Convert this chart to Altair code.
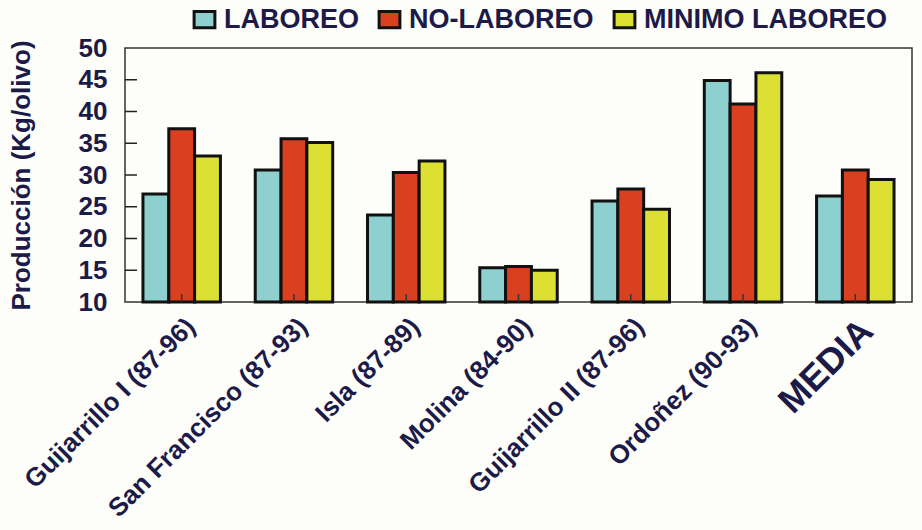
import altair as alt
import pandas as pd

# Olive yield per tree under three soil-management systems
sites = [
    "Guijarrillo I (87-96)",
    "San Francisco (87-93)",
    "Isla (87-89)",
    "Molina (84-90)",
    "Guijarrillo II (87-96)",
    "Ordoñez (90-93)",
    "MEDIA",
]
treatments = ["LABOREO", "NO-LABOREO", "MINIMO LABOREO"]
laboreo = [27.0, 30.8, 23.7, 15.4, 25.9, 44.9, 26.7]
no_laboreo = [37.3, 35.7, 30.4, 15.6, 27.8, 41.2, 30.8]
minimo_laboreo = [33.0, 35.1, 32.2, 15.0, 24.6, 46.1, 29.3]
y_ticks = [10, 15, 20, 25, 30, 35, 40, 45, 50]
inner_ticks = [15, 20, 25, 30, 35, 40, 45]

colors = ["#8ecfcf", "#d8401f", "#dce032"]
ink = "#1c1a48"
font = "Liberation Sans"

rows = []
for series_name, values in zip(treatments, [laboreo, no_laboreo, minimo_laboreo]):
    for site, v in zip(sites, values):
        rows.append({"sitio": site, "tratamiento": series_name, "produccion": v})
df = pd.DataFrame(rows)

W, H = 787, 254

x_axis = alt.Axis(
    title=None,
    labelAngle=-45,
    labelAlign="right",
    labelBaseline="top",
    labelPadding=11,
    labelFont=font,
    labelFontWeight="bold",
    labelFontSize=alt.expr("datum.value == 'MEDIA' ? 36 : 26"),
    labelColor=ink,
    labelOverlap=False,
    ticks=False,
    domain=False,
    labelLimit=400,
)
y_axis = alt.Axis(
    title="Producción (Kg/olivo)",
    values=y_ticks,
    ticks=False,
    domain=False,
    grid=False,
    labelOverlap=False,
    labelFont=font,
    labelFontWeight="bold",
    labelFontSize=26,
    labelColor=ink,
    labelPadding=18,
    titleFont=font,
    titleFontWeight="bold",
    titleFontSize=26,
    titleColor=ink,
    titleX=-91,
    titleY=H / 2,
)
x_scale = alt.Scale(domain=sites, paddingInner=0.31, paddingOuter=0.16)
y_scale = alt.Scale(domain=[10, 50], zero=False, nice=False)

bars = alt.Chart(df).mark_bar(stroke="#111111", strokeWidth=3).encode(
    x=alt.X("sitio:N", sort=sites, scale=x_scale, axis=x_axis),
    xOffset=alt.XOffset("tratamiento:N", sort=treatments, scale=alt.Scale(paddingInner=0, paddingOuter=0)),
    y=alt.Y("produccion:Q", scale=y_scale, axis=y_axis),
    y2=alt.datum(10),
    color=alt.Color(
        "tratamiento:N",
        sort=treatments,
        scale=alt.Scale(domain=treatments, range=colors),
        legend=alt.Legend(
            title=None,
            orient="none",
            direction="horizontal",
            legendX=66,
            legendY=-42,
            symbolType="M-1.2,-0.95H1.2V0.95H-1.2Z",
            symbolSize=300,
            symbolStrokeColor="#111111",
            symbolStrokeWidth=3,
            symbolOpacity=1,
            labelFont=font,
            labelFontWeight="bold",
            labelFontSize=27,
            labelColor=ink,
            labelOffset=6,
            labelLimit=400,
            columnPadding=14,
        ),
    ),
)

# inward tick marks on the value axis
ticks_df = pd.DataFrame({"produccion": inner_ticks})
y_marks = alt.Chart(ticks_df).mark_rule(color="#222222", strokeWidth=1.5).encode(
    y=alt.Y("produccion:Q", scale=y_scale, axis=y_axis),
    x=alt.value(0),
    x2=alt.value(12),
)

# small upward ticks at each site position
site_df = pd.DataFrame({"sitio": sites})
x_marks = alt.Chart(site_df).mark_rule(color="#333333", strokeWidth=1.5).encode(
    x=alt.X("sitio:N", sort=sites, scale=x_scale, axis=x_axis),
    y=alt.value(H),
    y2=alt.value(H - 8),
)

chart = (
    alt.layer(bars, y_marks, x_marks)
    .properties(
        width=W,
        height=H,
        background="#fdfdfa",
        padding={"left": 125, "top": 48, "right": 10, "bottom": 228},
        autosize=alt.AutoSizeParams(type="none"),
    )
    .configure_view(stroke="#333333", strokeWidth=1.5)
)

chart.save("out.html", embed_options={"renderer": "svg", "actions": False})
